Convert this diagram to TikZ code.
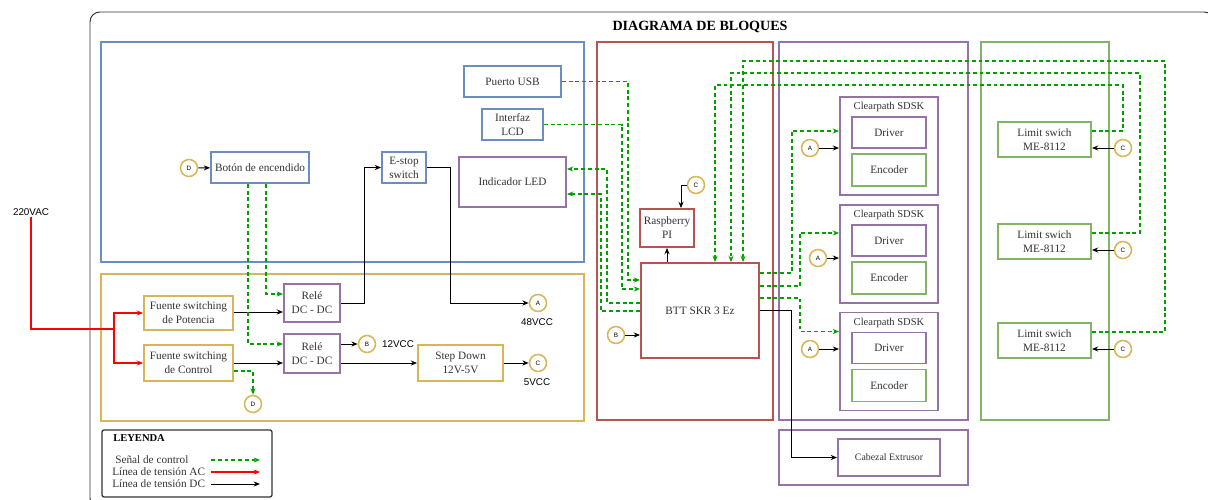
\documentclass[tikz,border=0pt]{standalone}
\usepackage{fontspec}
\setmainfont{Liberation Serif}
\newfontfamily\sansf{Liberation Sans}
\usetikzlibrary{arrows.meta,calc}
\definecolor{cblue}{HTML}{6C8EBF}
\definecolor{cgold}{HTML}{D6B656}
\definecolor{cred}{HTML}{B85450}
\definecolor{cpurple}{HTML}{9673A6}
\definecolor{cgreen}{HTML}{82B366}
\definecolor{cctl}{HTML}{00A000}
\definecolor{cleg}{HTML}{333333}
\definecolor{txt}{HTML}{333333}
\newcommand\pxu{0.025cm}
\begin{document}
\begin{tikzpicture}[x=0.025cm,y=-0.025cm,
    blk/.style={draw,fill=white,line width=1.3pt,inner sep=1pt,align=center,text=txt,font=\fontsize{8}{10}\selectfont},
    frm/.style={line width=1.8pt},
    conn/.style={draw=cgold,fill=white,line width=1.1pt,circle,minimum size=17*\pxu,inner sep=0pt,font=\sansf\fontsize{4.5}{5}\selectfont},
    lbl/.style={inner sep=1pt,font=\sansf\fontsize{7}{8}\selectfont},
    arr/.style={-{Stealth[length=4.5pt,width=3.6pt]}},
    ctl/.style={draw=cctl,line width=0.9pt,dash pattern=on 2.8pt off 2pt,arr},
    dcl/.style={draw=black,line width=0.7pt,arr},
    acl/.style={draw=red,line width=1pt}]
    \useasboundingbox (0,0) rectangle (1208,499);
    % outer frame and title
    \draw[line width=0.7pt,draw=cleg,rounded corners=7pt] (90,12) rectangle (1214,508);
    \node[font=\bfseries\fontsize{10}{12}\selectfont] (title) at (700,27) {DIAGRAMA DE BLOQUES};
    % groups
    \draw[frm,draw=cblue] (101,42) rectangle (584,262);
    \draw[frm,draw=cgold] (101,274) rectangle (584,421);
    \draw[frm,draw=cred] (597,42) rectangle (773,420);
    \draw[frm,draw=cpurple] (779,42) rectangle (968,420);
    \draw[frm,draw=cgreen] (981,42) rectangle (1109,420);
    \draw[frm,draw=cpurple] (779,430) rectangle (968,485);
    % interface block
    \node[blk,draw=cblue,minimum width=97*\pxu,minimum height=31*\pxu] (usb) at (512.5,81.5) {Puerto USB};
    \node[blk,draw=cblue,minimum width=61*\pxu,minimum height=31*\pxu] (lcd) at (512.5,124.5) {Interfaz\\LCD};
    \node[blk,draw=cpurple,minimum width=107*\pxu,minimum height=50*\pxu] (led) at (512.5,182) {Indicador LED};
    \node[blk,draw=cblue,minimum width=98*\pxu,minimum height=31*\pxu] (boton) at (260,167.5) {Botón de encendido};
    \node[blk,draw=cblue,minimum width=44*\pxu,minimum height=31*\pxu] (estop) at (404,167.5) {E-stop\\switch};
    % power block
    \node[blk,draw=cgold,minimum width=89*\pxu,minimum height=34*\pxu] (fuenteP) at (188.5,313) {Fuente switching\\de Potencia};
    \node[blk,draw=cgold,minimum width=89*\pxu,minimum height=36*\pxu] (fuenteC) at (188.5,363) {Fuente switching\\de Control};
    \node[blk,draw=cpurple,minimum width=56*\pxu,minimum height=38*\pxu] (rele1) at (312,303) {Relé\\DC - DC};
    \node[blk,draw=cpurple,minimum width=56*\pxu,minimum height=39*\pxu] (rele2) at (312,353.5) {Relé\\DC - DC};
    \node[blk,draw=cgold,minimum width=85*\pxu,minimum height=36*\pxu] (stepdown) at (460.5,363) {Step Down\\12V-5V};
    % control block
    \node[blk,draw=cred,minimum width=54*\pxu,minimum height=38*\pxu] (rpi) at (667,228) {Raspberry\\PI};
    \node[blk,draw=cred,minimum width=118*\pxu,minimum height=95*\pxu] (btt) at (700,310.5) {BTT SKR 3 Ez};
    % motors
    \foreach \i/\y in {1/146,2/254,3/361.5}{
        \node[blk,draw=cpurple,minimum width=98*\pxu,minimum height=98*\pxu] (cp\i) at (889,\y) {};
        \node[text=txt,inner sep=0pt,font=\fontsize{7.5}{9}\selectfont] (cpt\i) at ($(cp\i.north)+(0,11)$) {Clearpath SDSK};
        \node[blk,draw=cpurple,minimum width=74*\pxu,minimum height=31*\pxu] (drv\i) at ($(cp\i.center)+(0,-13.5)$) {Driver};
        \node[blk,draw=cgreen,minimum width=74*\pxu,minimum height=32*\pxu] (enc\i) at ($(cp\i.center)+(0,24)$) {Encoder};
    }
    \node[blk,draw=cpurple,minimum width=102*\pxu,minimum height=37*\pxu,font=\fontsize{7}{9}\selectfont] (ext) at (889,457.5) {Cabezal Extrusor};
    % limit switches
    \foreach \i/\y in {1/139.5,2/241.5,3/340.5}{
        \node[blk,draw=cgreen,minimum width=93*\pxu,minimum height=35*\pxu] (lim\i) at (1044.5,\y) {Limit swich\\ME-8112};
    }
    % connectors
    \node[conn] (cD1) at (189,168) {D};
    \node[conn] (cA1) at (538,303) {A};
    \node[lbl] (v48) at (537,322) {48VCC};
    \node[conn] (cB1) at (367,344) {B};
    \node[lbl] (v12) at (398,344) {12VCC};
    \node[conn] (cC1) at (538,363) {C};
    \node[lbl] (v5) at (537,382) {5VCC};
    \node[conn] (cD2) at (253,404) {D};
    \node[conn] (cC2) at (696,185) {C};
    \node[conn] (cB2) at (616,335) {B};
    \node[conn] (cA2) at (810,148) {A};
    \node[conn] (cA3) at (818,258) {A};
    \node[conn] (cA4) at (810,349) {A};
    \node[conn] (cC3) at (1123,148) {C};
    \node[conn] (cC4) at (1123,250) {C};
    \node[conn] (cC5) at (1123,349) {C};
    % AC supply
    \node[lbl] (vac) at (31,212) {220VAC};
    \coordinate (acsplit) at (114,329);
    \draw[acl] (vac.south) |- (acsplit);
    \draw[acl,arr] (acsplit) |- (fuenteP.west);
    \draw[acl,arr] (acsplit) |- (fuenteC.west);
    % DC lines
    \draw[dcl] (cD1) -- (boton);
    \draw[dcl] ($(fuenteP.east)+(0,-1)$) -- ($(fuenteP.east -| rele1.west)+(0,-1)$);
    \draw[dcl] (fuenteC.east) -- (fuenteC.east -| rele2.west);
    \draw[dcl] (rele1.east) -- ++(24,0) |- (estop.west);
    \draw[dcl] (estop.east) -- ++(24,0) |- (cA1.west);
    \draw[dcl] (rele2.east |- cB1) -- (cB1.west);
    \draw[dcl] (rele2.east |- stepdown.west) -- (stepdown.west);
    \draw[dcl] (stepdown.east) -- (cC1.west);
    \draw[dcl] (cC2.west) -| ($(rpi.north)+(14,0)$);
    \draw[dcl] (rpi.south |- btt.north) -- (rpi.south);
    \draw[dcl] (cB2) -- (cB2 -| btt.west);
    \draw[dcl] (btt.east) -- ++(32,0) |- (ext.west);
    \draw[dcl] (cA2) -- (cA2 -| cp1.west);
    \draw[dcl] (cA3) -- (cA3 -| cp2.west);
    \draw[dcl] (cA4) -- (cA4 -| cp3.west);
    \draw[dcl] (cC3) -- (cC3 -| lim1.east);
    \draw[dcl] (cC4) -- (cC4 -| lim2.east);
    \draw[dcl] (cC5) -- (cC5 -| lim3.east);
    % control signals
    \draw[ctl] ($(boton.south)+(6,0)$) |- ($(rele1.west)+(0,-9)$);
    \draw[ctl] ($(boton.south)+(-12,0)$) |- ($(rele2.west)+(0,-9.5)$);
    \draw[ctl] ($(fuenteC.east)+(0,8)$) -| (cD2.north);
    \draw[ctl] (usb.east) -- ++(66,0) |- ($(btt.west)+(0,-30.5)$);
    \draw[ctl] (lcd.east) -- ++(78,0) |- ($(btt.west)+(0,-21.5)$);
    \draw[ctl] ($(btt.west)+(0,-7.5)$) -- ++(-33,0) |- ($(led.east)+(0,-13)$);
    \draw[ctl] ($(btt.west)+(0,0.5)$) -- ++(-39,0) |- ($(led.east)+(0,12)$);
    \draw[ctl] ($(btt.east)+(0,-37.5)$) -- ++(32,0) |- ($(cp1.west)+(0,-15)$);
    \draw[ctl] ($(btt.east)+(0,-24.5)$) -- ++(40,0) |- ($(cp2.west)+(0,-21)$);
    \draw[ctl] ($(btt.east)+(0,-12.5)$) -- ++(40,0) |- ($(cp3.west)+(0,-30)$);
    \draw[ctl] ($(lim1.east)+(0,-8.5)$) -- ++(31,0) -- ++(0,-46) -| ($(btt.north)+(15,0)$);
    \draw[ctl] ($(lim2.east)+(0,-8.5)$) -- ++(48,0) -- ++(0,-160) -| ($(btt.north)+(31,0)$);
    \draw[ctl] ($(lim3.east)+(0,-8.5)$) -- ++(73,0) -- ++(0,-271) -| ($(btt.north)+(43,0)$);
    % legend
    \draw[draw=cleg,line width=0.9pt,rounded corners=1.5pt] (102,430) rectangle (272,497);
    \node[anchor=west,inner sep=0pt,font=\bfseries\fontsize{7.5}{9}\selectfont] (leg) at (113,438) {LEYENDA};
    \node[anchor=west,inner sep=0pt,text=txt,font=\fontsize{8}{9}\selectfont] (legc) at (115,460) {Señal de control};
    \node[anchor=west,inner sep=0pt,text=txt,font=\fontsize{8}{9}\selectfont] (lega) at (112,472) {Línea de tensión AC};
    \node[anchor=west,inner sep=0pt,text=txt,font=\fontsize{8}{9}\selectfont] (legd) at (112,484) {Línea de tensión DC};
    \coordinate (lg1a) at (211,460); \coordinate (lg1b) at (260,460);
    \coordinate (lg2a) at (211,472); \coordinate (lg2b) at (260,472);
    \coordinate (lg3a) at (211,484); \coordinate (lg3b) at (260,484);
    \draw[ctl] (lg1a) -- (lg1b);
    \draw[acl,arr] (lg2a) -- (lg2b);
    \draw[dcl] (lg3a) -- (lg3b);
\end{tikzpicture}
\end{document}
